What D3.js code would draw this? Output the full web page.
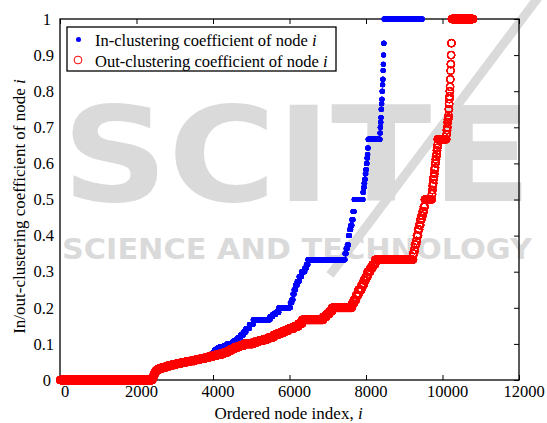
<!DOCTYPE html>
<html><head><meta charset="utf-8">
<script src="https://cdn.jsdelivr.net/npm/d3@7"></script>
<style>body{margin:0;background:#fff} svg{display:block}</style>
</head><body>
<svg id="chart" width="547" height="423"></svg>
<script>
// ---- data ----
const xTickValues = [0, 2000, 4000, 6000, 8000, 10000, 12000];
const yTickValues = [0, 0.1, 0.2, 0.3, 0.4, 0.5, 0.6, 0.7, 0.8, 0.9, 1];
const yTickLabels = ["0", "0.1", "0.2", "0.3", "0.4", "0.5", "0.6", "0.7", "0.8", "0.9", "1"];
const seriesNames = ["In-clustering coefficient of node ", "Out-clustering coefficient of node "];
const watermarkLines = ["SCITE", "SCIENCE AND TECHNOLOGY"];

// sorted coefficients as runs: value and the ordered node index where the run ends
const inValues = [0, 0.008, 0.016, 0.022, 0.027, 0.031, 0.035, 0.039, 0.042, 0.045, 0.048, 0.051, 0.053, 0.056, 0.059, 0.063, 0.068, 0.075, 0.083, 0.088, 0.092, 0.095, 0.1, 0.107, 0.111, 0.118, 0.125, 0.133, 0.143, 0.154, 0.1667, 0.176, 0.182, 0.188, 0.2, 0.214, 0.222, 0.238, 0.25, 0.263, 0.273, 0.286, 0.3, 0.31, 0.32, 0.3333, 0.35, 0.364, 0.375, 0.4, 0.417, 0.429, 0.444, 0.467, 0.5, 0.52, 0.533, 0.545, 0.556, 0.571, 0.583, 0.6, 0.615, 0.625, 0.643, 0.6667, 0.684, 0.7, 0.714, 0.727, 0.75, 0.765, 0.778, 0.8, 0.818, 0.833, 0.857, 0.875, 0.9, 0.933, 1];
const inEnds = [2420, 2450, 2480, 2510, 2560, 2660, 2780, 2900, 3020, 3150, 3280, 3400, 3520, 3650, 3780, 3900, 3980, 4040, 4100, 4180, 4280, 4360, 4520, 4590, 4650, 4720, 4790, 4860, 4950, 5050, 5490, 5560, 5640, 5720, 6020, 6060, 6090, 6120, 6160, 6200, 6250, 6310, 6400, 6440, 6480, 7450, 7480, 7510, 7540, 7570, 7600, 7630, 7660, 7690, 7920, 7935, 7950, 7965, 7980, 7995, 8010, 8025, 8035, 8045, 8055, 8365, 8372, 8380, 8388, 8395, 8405, 8412, 8420, 8430, 8437, 8445, 8451, 8456, 8461, 8470, 9470];

const outValues = [0, 0.008, 0.016, 0.022, 0.027, 0.031, 0.035, 0.039, 0.042, 0.045, 0.048, 0.051, 0.053, 0.056, 0.059, 0.062, 0.066, 0.069, 0.072, 0.076, 0.081, 0.086, 0.091, 0.095, 0.1, 0.105, 0.109, 0.113, 0.118, 0.125, 0.13, 0.136, 0.142, 0.148, 0.156, 0.1667, 0.175, 0.182, 0.19, 0.2, 0.211, 0.222, 0.235, 0.25, 0.263, 0.276, 0.286, 0.3, 0.31, 0.32, 0.3333, 0.35, 0.36, 0.375, 0.385, 0.4, 0.417, 0.429, 0.444, 0.455, 0.467, 0.48, 0.5, 0.515, 0.526, 0.538, 0.545, 0.556, 0.563, 0.571, 0.583, 0.588, 0.6, 0.611, 0.619, 0.625, 0.636, 0.643, 0.65, 0.6667, 0.68, 0.692, 0.7, 0.714, 0.722, 0.727, 0.733, 0.75, 0.765, 0.778, 0.786, 0.8, 0.812, 0.833, 0.857, 0.875, 0.9, 0.933, 1];
const outEnds = [2420, 2450, 2480, 2510, 2560, 2660, 2780, 2900, 3020, 3150, 3280, 3400, 3520, 3650, 3780, 3900, 4030, 4150, 4270, 4380, 4470, 4560, 4680, 4800, 5050, 5180, 5320, 5450, 5580, 5700, 5830, 5960, 6100, 6230, 6330, 6880, 6960, 7040, 7110, 7630, 7680, 7740, 7800, 7880, 7940, 7990, 8040, 8110, 8170, 8240, 9230, 9255, 9280, 9310, 9330, 9360, 9390, 9420, 9450, 9480, 9510, 9535, 9720, 9730, 9740, 9750, 9760, 9770, 9780, 9790, 9800, 9808, 9820, 9830, 9840, 9850, 9858, 9866, 9872, 10100, 10110, 10120, 10130, 10140, 10148, 10155, 10160, 10170, 10176, 10182, 10187, 10195, 10200, 10208, 10214, 10222, 10228, 10240, 10800];

// ---- drawing ----
const svg = d3.select("#chart");
const FONT = "'Liberation Serif', 'Times New Roman', serif";
const x = d3.scaleLinear().domain([0, 12000]).range([60, 519]);
const y = d3.scaleLinear().domain([0, 1]).range([380, 19]);

// faint background watermark
const WM = "#dadada";
const wm = svg.append("g").attr("fill", WM).attr("font-family", "'DejaVu Sans', sans-serif").attr("font-weight", "bold");
wm.append("text").attr("x", 62).attr("y", 201).attr("font-size", 132)
  .attr("textLength", 470).attr("lengthAdjust", "spacingAndGlyphs").text(watermarkLines[0]);
wm.append("text").attr("x", 62).attr("y", 259).attr("font-size", 28)
  .attr("textLength", 470).attr("lengthAdjust", "spacingAndGlyphs").text(watermarkLines[1]);
wm.append("line").attr("x1", 330).attr("y1", 275).attr("x2", 540).attr("y2", -5)
  .attr("stroke", WM).attr("stroke-width", 9);

function expand(values, ends) {
  const pts = []; let start = 0;
  values.forEach((v, k) => { for (let i = start; i < ends[k]; i++) pts.push([i + 1, v]); start = ends[k]; });
  return pts;
}
const inPts = expand(inValues, inEnds);
const outPts = expand(outValues, outEnds);

// frame
svg.append("rect").attr("x", x(0)).attr("y", y(1)).attr("width", x(12000) - x(0)).attr("height", y(0) - y(1))
  .attr("fill", "none").attr("stroke", "#000").attr("stroke-width", 1.3);

// axes
const gx = svg.append("g").attr("transform", `translate(0,${y(0)})`)
  .call(d3.axisBottom(x).tickValues(xTickValues).tickFormat(d3.format("d")).tickSize(-5).tickSizeOuter(0).tickPadding(5));
const gxTop = svg.append("g").attr("transform", `translate(0,${y(1)})`)
  .call(d3.axisTop(x).tickValues(xTickValues).tickFormat("").tickSize(-5).tickSizeOuter(0));
const gyR = svg.append("g").attr("transform", `translate(${x(12000)},0)`)
  .call(d3.axisRight(y).tickValues(yTickValues).tickFormat("").tickSize(-5).tickSizeOuter(0));
const gy = svg.append("g").attr("transform", `translate(${x(0)},0)`)
  .call(d3.axisLeft(y).tickValues(yTickValues).tickFormat((d, i) => yTickLabels[i]).tickSize(0).tickSizeOuter(0).tickPadding(6));
[gx, gxTop, gyR, gy].forEach(g => {
  g.select(".domain").remove();
  g.selectAll("line").attr("stroke", "#000").attr("stroke-width", 1);
  g.selectAll("text").attr("font-family", FONT).attr("font-size", 16.5).attr("fill", "#000");
});
gx.selectAll("text").attr("dx", 4.5);
gy.selectAll("text").attr("dx", (d, i) => yTickLabels[i].length === 1 ? -3 : 0);

// data markers
svg.append("g").selectAll("circle").data(inPts).join("circle")
  .attr("cx", d => x(d[0])).attr("cy", d => y(d[1])).attr("r", 2.5).attr("fill", "#0000ff");
svg.append("g").selectAll("circle").data(outPts).join("circle")
  .attr("cx", d => x(d[0])).attr("cy", d => y(d[1])).attr("r", 3.7)
  .attr("fill", "none").attr("stroke", "#ff0000").attr("stroke-width", 1);

// legend
const lg = svg.append("g");
lg.append("rect").attr("x", 67).attr("y", 27).attr("width", 269).attr("height", 44)
  .attr("fill", "#fff").attr("stroke", "#000").attr("stroke-width", 1.3);
lg.append("circle").attr("cx", 78.5).attr("cy", 39.5).attr("r", 2.5).attr("fill", "#0000ff");
lg.append("circle").attr("cx", 78).attr("cy", 60).attr("r", 3.9).attr("fill", "none").attr("stroke", "#ff0000").attr("stroke-width", 1);
seriesNames.forEach((name, k) => {
  const t = lg.append("text").attr("x", 95).attr("y", 46 + k * 20.5)
    .attr("font-family", FONT).attr("font-size", 16.5).attr("fill", "#000");
  t.append("tspan").text(name);
  t.append("tspan").attr("font-style", "italic").text("i");
});

// axis titles
const xt = svg.append("text").attr("x", 288.5).attr("y", 419).attr("text-anchor", "middle")
  .attr("font-family", FONT).attr("font-size", 17).attr("fill", "#000");
xt.append("tspan").text("Ordered node index, ");
xt.append("tspan").attr("font-style", "italic").text("i");

const yt = svg.append("text").attr("transform", "translate(25,206.5) rotate(-90)").attr("text-anchor", "middle")
  .attr("font-family", FONT).attr("font-size", 17).attr("fill", "#000");
yt.append("tspan").text("In/out-clustering coefficient of node ");
yt.append("tspan").attr("font-style", "italic").text("i");
</script>
</body></html>
